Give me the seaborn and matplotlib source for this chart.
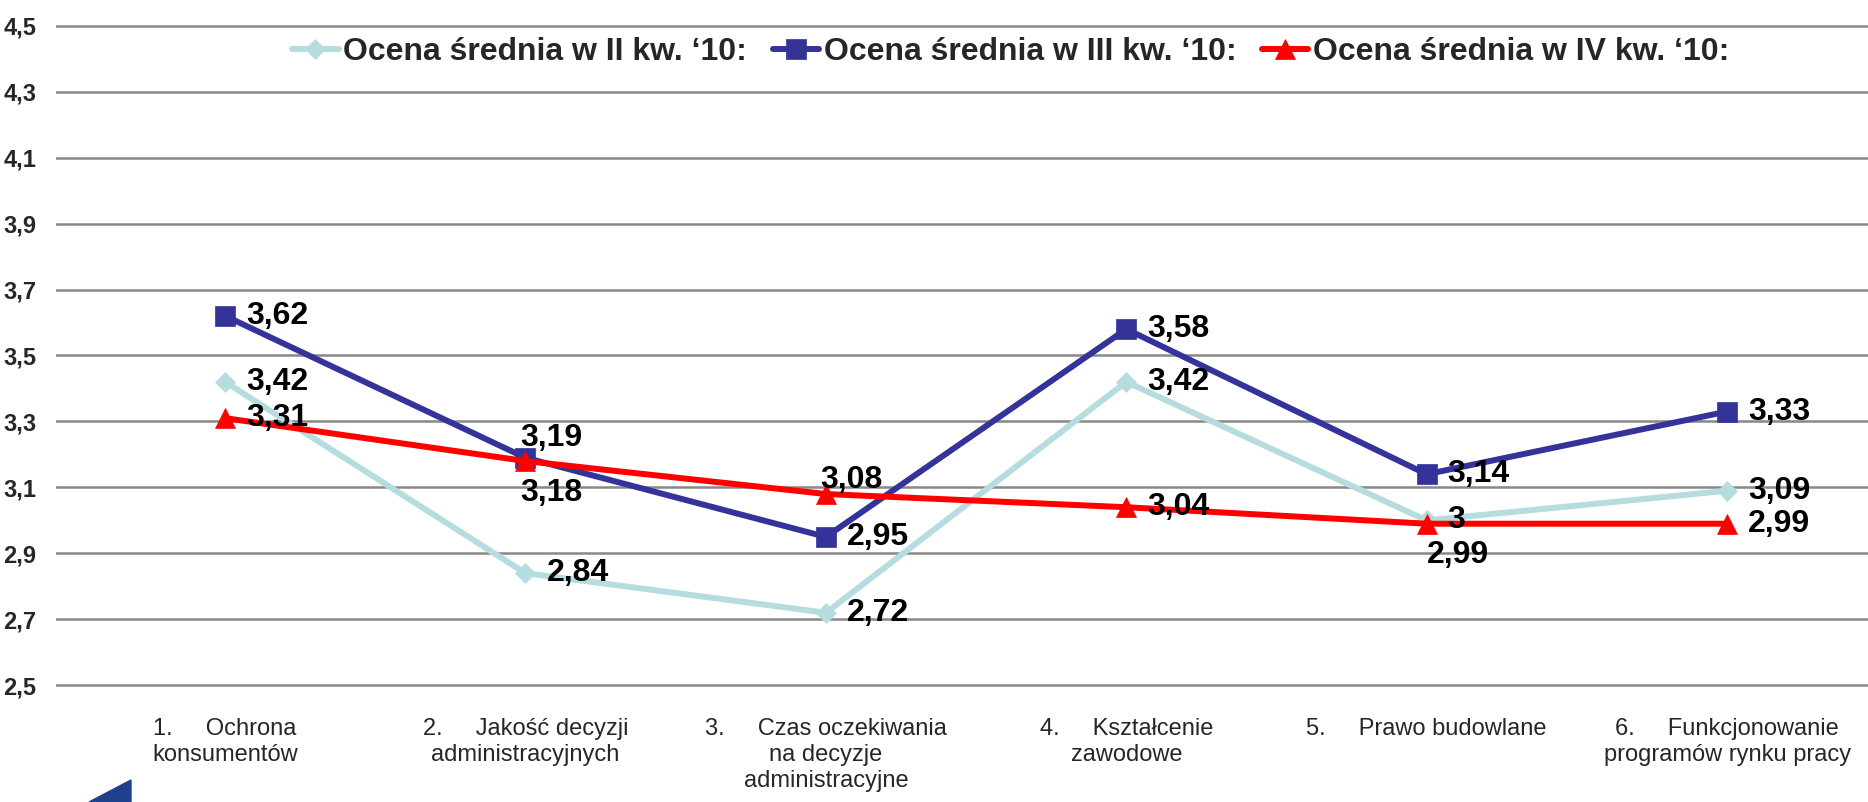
import numpy as np
import pandas as pd
import matplotlib
matplotlib.use("Agg")
import matplotlib.pyplot as plt
import seaborn as sns
from matplotlib.patches import Polygon

# dane
categories = [
    "1.     Ochrona\nkonsumentów",
    "2.     Jakość decyzji\nadministracyjnych",
    "3.     Czas oczekiwania\nna decyzje\nadministracyjne",
    "4.     Kształcenie\nzawodowe",
    "5.     Prawo budowlane",
    "6.     Funkcjonowanie\nprogramów rynku pracy",
]
series_names = [
    "Ocena średnia w II kw. \u201810:",
    "Ocena średnia w III kw. \u201810:",
    "Ocena średnia w IV kw. \u201810:",
]
q2_values = [3.42, 2.84, 2.72, 3.42, 3.00, 3.09]
q3_values = [3.62, 3.19, 2.95, 3.58, 3.14, 3.33]
q4_values = [3.31, 3.18, 3.08, 3.04, 2.99, 2.99]
y_ticks = [2.5, 2.7, 2.9, 3.1, 3.3, 3.5, 3.7, 3.9, 4.1, 4.3, 4.5]

sns.set_theme(style="white")
plt.rcParams["font.family"] = ["Liberation Sans", "DejaVu Sans"]

colors = ["#B5DCDF", "#333399", "#FF0000"]
markers = ["D", "s", "^"]
msizes = [10, 14, 14]
values = [q2_values, q3_values, q4_values]

# przesunięcia etykiet (piksele) - domyślnie na prawo od punktu
default_off = (21, 0)
special_off = {
    (1, 1): (-5, 20),
    (2, 1): (-5, -32),
    (2, 2): (-6, 14),
    (2, 4): (0, -31),
}

fig = plt.figure(figsize=(18.68, 8.02), dpi=100)
ax = fig.add_axes([0.030, 0.1434, 0.970, 0.8267])

x = np.arange(len(categories))
for i, (name, vals) in enumerate(zip(series_names, values)):
    df = pd.DataFrame({"x": x, "y": vals})
    sns.lineplot(data=df, x="x", y="y", ax=ax, color=colors[i], marker=markers[i],
                 markersize=msizes[i], linewidth=4.3, label=name,
                 markeredgecolor=colors[i], markeredgewidth=0.5, zorder=3 + i)

for i, vals in enumerate(values):
    for j, v in enumerate(vals):
        txt = f"{v:.2f}".rstrip("0").rstrip(".").replace(".", ",")
        off = special_off.get((i, j), default_off)
        ax.annotate(txt, (j, v), xytext=off, textcoords="offset pixels",
                    ha="left", va="center", fontsize=23, fontweight="bold",
                    color="black", zorder=10)

ax.set_ylim(2.495, 4.505)
ax.set_xlim(-0.5626, 5.469)
ax.set_yticks(y_ticks)
ax.set_yticklabels([f"{t:.1f}".replace(".", ",") for t in y_ticks],
                   fontsize=17, fontweight="bold")
ax.set_xticks(x)
ax.set_xticklabels(categories, fontsize=17, linespacing=1.25)
ax.tick_params(axis="y", length=0, pad=14)
ax.tick_params(axis="x", length=0, pad=22)
ax.set_xlabel("")
ax.set_ylabel("")
ax.grid(axis="y", color="#888888", linewidth=1.8)
ax.grid(axis="x", visible=False)
for s in ax.spines.values():
    s.set_visible(False)

leg = ax.legend(loc="center", bbox_to_anchor=(0.527, 0.958), ncol=3, frameon=False,
                handlelength=1.45, handletextpad=0.15, columnspacing=0.8,
                prop={"weight": "bold", "size": 23})

# fragment logo w lewym dolnym rogu
fig.add_artist(Polygon([[89 / 1868, 0.0], [131 / 1868, 22 / 802], [131 / 1868, 0.0]],
                       closed=True, transform=fig.transFigure, color="#1F3F8F"))

fig.savefig("out.png", dpi=100)
